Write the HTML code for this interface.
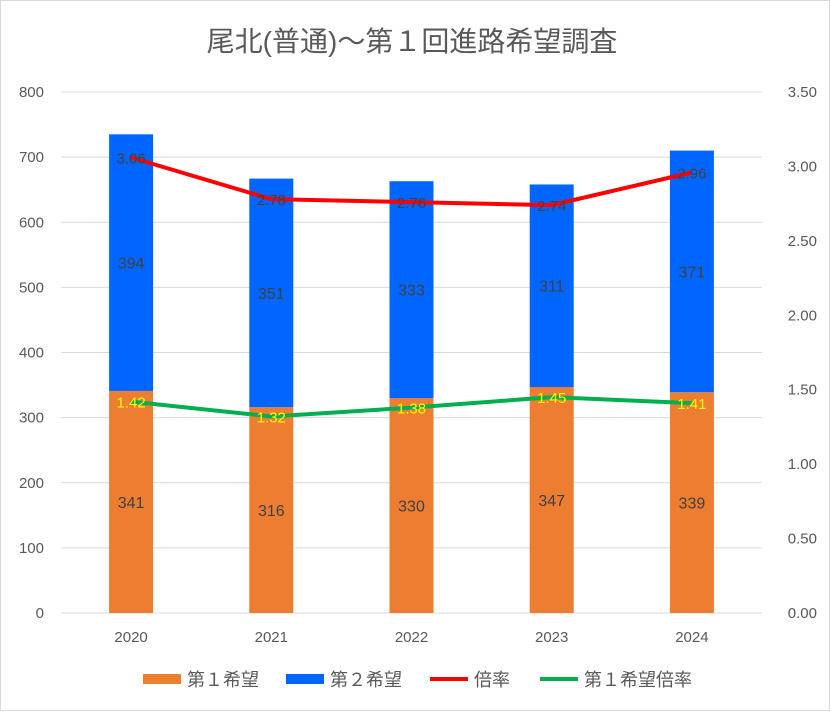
<!DOCTYPE html>
<html><head><meta charset="utf-8"><style>
body{margin:0;background:#fff}
svg text{font-family:"Liberation Sans","Noto Sans CJK JP",sans-serif}
</style></head><body>
<svg id="c" width="830" height="711" xmlns="http://www.w3.org/2000/svg">
<rect x="0.5" y="0.5" width="829" height="710" fill="#fff" stroke="#d9d9d9"/>
<text x="412" y="51" text-anchor="middle" font-size="28" fill="#595959">尾北(普通)～第１回進路希望調査</text>
<g id="grid"></g><g id="bars"></g><g id="lines"></g><g id="labels"></g>
<g>
<rect x="143" y="674" width="38" height="10" fill="#ED7D31"/>
<text x="187" y="686" font-size="18" fill="#595959">第１希望</text>
<rect x="286" y="674" width="38" height="10" fill="#0066FF"/>
<text x="330" y="686" font-size="18" fill="#595959">第２希望</text>
<line x1="430" y1="679" x2="468" y2="679" stroke="#FF0000" stroke-width="4"/>
<text x="474" y="686" font-size="18" fill="#595959">倍率</text>
<line x1="540" y1="679" x2="578" y2="679" stroke="#00B050" stroke-width="4"/>
<text x="584" y="686" font-size="18" fill="#595959">第１希望倍率</text>
</g>
</svg>
<script>
const categories=["2020","2021","2022","2023","2024"];
const first=[341,316,330,347,339];
const second=[394,351,333,311,371];
const ratio=[3.06,2.78,2.76,2.74,2.96];
const firstRatio=[1.42,1.32,1.38,1.45,1.41];
const leftTicks=[0,100,200,300,400,500,600,700,800];
const rightTicks=["0.00","0.50","1.00","1.50","2.00","2.50","3.00","3.50"];
const NS="http://www.w3.org/2000/svg";
const L=61,R=762,T=92,B=613;
const y=v=>B-(v/800)*(B-T);
const y2=v=>B-(v/3.5)*(B-T);
const step=(R-L)/categories.length;
const x=i=>L+step*(i+0.5);
const bw=44;
function mk(tag,attrs,parent,txt){const e=document.createElementNS(NS,tag);for(const k in attrs)e.setAttribute(k,attrs[k]);if(txt!==undefined)e.textContent=txt;document.getElementById(parent).appendChild(e);return e;}
leftTicks.forEach(t=>{
 const l=mk('line',{x1:L,x2:R,y1:y(t),y2:y(t),stroke:'#d9d9d9','stroke-width':1},'grid');
 
 
 const tx=mk('text',{x:44,y:y(t)+5,'text-anchor':'end','font-size':15,fill:'#595959'},'grid',t);
 
 
});
rightTicks.forEach(t=>{
 const tx=mk('text',{x:817,y:y2(+t)+5,'text-anchor':'end','font-size':15,fill:'#595959'},'grid',t);
 
 
});
categories.forEach((c,i)=>{
 const tx=mk('text',{x:x(i),y:642,'text-anchor':'middle','font-size':15,fill:'#595959'},'grid',c);
 
 
 const b1=mk('rect',{x:x(i)-bw/2,y:y(first[i]),width:bw,height:B-y(first[i]),fill:'#ED7D31'},'bars');
 
 
 const b2=mk('rect',{x:x(i)-bw/2,y:y(first[i]+second[i]),width:bw,height:y(first[i])-y(first[i]+second[i]),fill:'#0066FF'},'bars');
 
 
 const l1=mk('text',{x:x(i),y:(y(first[i])+B)/2+6,'text-anchor':'middle','font-size':16,fill:'#404040'},'labels',first[i]);
 
 
 const l2=mk('text',{x:x(i),y:(y(first[i])+y(first[i]+second[i]))/2+6,'text-anchor':'middle','font-size':16,fill:'#404040'},'labels',second[i]);
 
 
 const l3=mk('text',{x:x(i),y:y2(ratio[i])+6,'text-anchor':'middle','font-size':15,fill:'#404040'},'labels',ratio[i].toFixed(2));
 
 
 const l4=mk('text',{x:x(i),y:y2(firstRatio[i])+6,'text-anchor':'middle','font-size':15,fill:'#FFFF00'},'labels',firstRatio[i].toFixed(2));
 
 
});
const p1=mk('polyline',{points:ratio.map((v,i)=>x(i)+','+y2(v)).join(' '),fill:'none',stroke:'#FF0000','stroke-width':4,'stroke-linejoin':'round'},'lines');


const p2=mk('polyline',{points:firstRatio.map((v,i)=>x(i)+','+y2(v)).join(' '),fill:'none',stroke:'#00B050','stroke-width':4,'stroke-linejoin':'round'},'lines');


</script>
</body></html>
